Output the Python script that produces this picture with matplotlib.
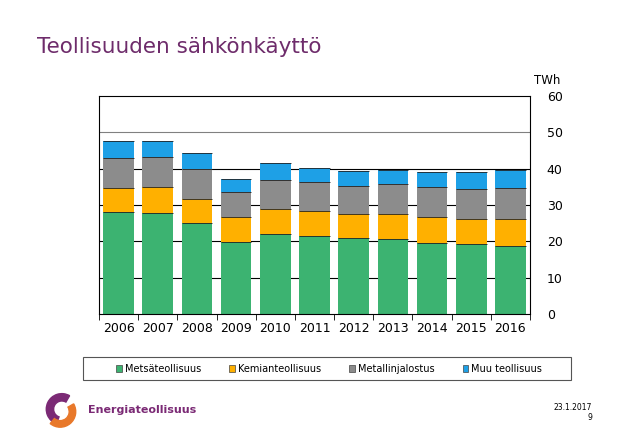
import matplotlib
matplotlib.use("Agg")
import matplotlib.pyplot as plt
import numpy as np
from matplotlib.patches import Wedge, Rectangle

years = ["2006", "2007", "2008", "2009", "2010", "2011", "2012", "2013", "2014", "2015", "2016"]
metsa = [28.0, 27.8, 25.0, 19.9, 22.0, 21.5, 20.8, 20.6, 19.5, 19.2, 18.8]
kemia = [6.6, 7.1, 6.7, 6.7, 6.8, 6.9, 6.8, 6.9, 7.3, 6.9, 7.3]
metalli = [8.2, 8.2, 8.1, 7.1, 8.0, 7.9, 7.6, 8.3, 8.1, 8.4, 8.7]
muu = [4.8, 4.4, 4.4, 3.5, 4.7, 3.8, 4.1, 3.8, 4.1, 4.5, 4.8]
series_names = ["Metsäteollisuus", "Kemianteollisuus", "Metallinjalostus", "Muu teollisuus"]
colors = ["#3cb371", "#ffb000", "#8c8c8c", "#1ea0e6"]
yticks = [0, 10, 20, 30, 40, 50, 60]

fig = plt.figure(figsize=(6.38, 4.42), dpi=100)
fig.patch.set_facecolor("white")

fig.text(37/638, 1 - 47/442, "Teollisuuden sähkönkäyttö", color="#6e2c6b",
         fontsize=15.5, va="center", ha="left", family="DejaVu Sans")

ax = fig.add_axes([99/638, 1 - 314/442, 431/638, 218/442])
x = np.arange(len(years))
data = [metsa, kemia, metalli, muu]
bottom = np.zeros(len(years))
handles = []
for vals, c, name in zip(data, colors, series_names):
    vals = np.array(vals)
    h = ax.bar(x, vals, bottom=bottom, width=0.78, color=c, label=name, zorder=2)
    handles.append(h)
    ax.hlines(bottom + vals, x - 0.39, x + 0.39, colors="#222222", linewidth=0.6, zorder=3)
    bottom = bottom + vals

for t in yticks[1:-1]:
    ax.axhline(t, color="#808080" if t == 50 else "black", linewidth=0.8, zorder=1)

ax.set_xlim(-0.5, len(years) - 0.5)
ax.set_ylim(0, 60)
ax.yaxis.tick_right()
ax.set_yticks(yticks)
ax.set_yticklabels([str(t) for t in yticks], fontsize=9)
ax.tick_params(axis="y", length=0, pad=12)
ax.set_xticks(x)
ax.set_xticklabels(years, fontsize=9)
ax.tick_params(axis="x", length=0, pad=6)
ax.set_xticks(np.arange(len(years) + 1) - 0.5, minor=True)
ax.tick_params(axis="x", which="minor", length=4, direction="out", color="black")
for s in ax.spines.values():
    s.set_color("black")
    s.set_linewidth(0.8)
ax.text(1.01, 1.04, "TWh", transform=ax.transAxes, fontsize=8.5, ha="left", va="bottom")

# legend frame
fig.add_artist(Rectangle((83/638, 1 - 380/442), 488/638, 23/442, transform=fig.transFigure,
                         facecolor="white", edgecolor="#555555", linewidth=0.8, zorder=0))
leg_handles = [Rectangle((0, 0), 1, 1, facecolor=c, edgecolor="#444444", linewidth=0.5)
               for c in colors]
leg = fig.legend(leg_handles, series_names, loc="center", ncol=4,
                 bbox_to_anchor=(329/638, 1 - 369/442),
                 fontsize=7, frameon=False, handlelength=0.6,
                 handleheight=0.6, handletextpad=0.3, columnspacing=2.9)

# logo
lax = fig.add_axes([40/638, 1 - 428/442, 42/638, 36/442])
lax.set_xlim(-1.2, 1.2)
lax.set_ylim(-1.1, 1.1)
lax.set_aspect("equal")
lax.axis("off")
lax.add_patch(Wedge((0.05, 0.05), 0.95, 60, 250, width=0.45, color="#7b2a75"))
lax.add_patch(Wedge((-0.05, -0.1), 0.95, 230, 30, width=0.4, color="#e8782a"))
fig.text(88/638, 1 - 410/442, "Energiateollisuus", color="#7b2a75", fontsize=8,
         fontweight="bold", va="center", ha="left")

fig.text(592/638, 1 - 408/442, "23.1.2017", fontsize=5.5, ha="right", va="center")
fig.text(592/638, 1 - 418/442, "9", fontsize=5.5, ha="right", va="center")

fig.savefig("out.png", dpi=100, facecolor="white")
